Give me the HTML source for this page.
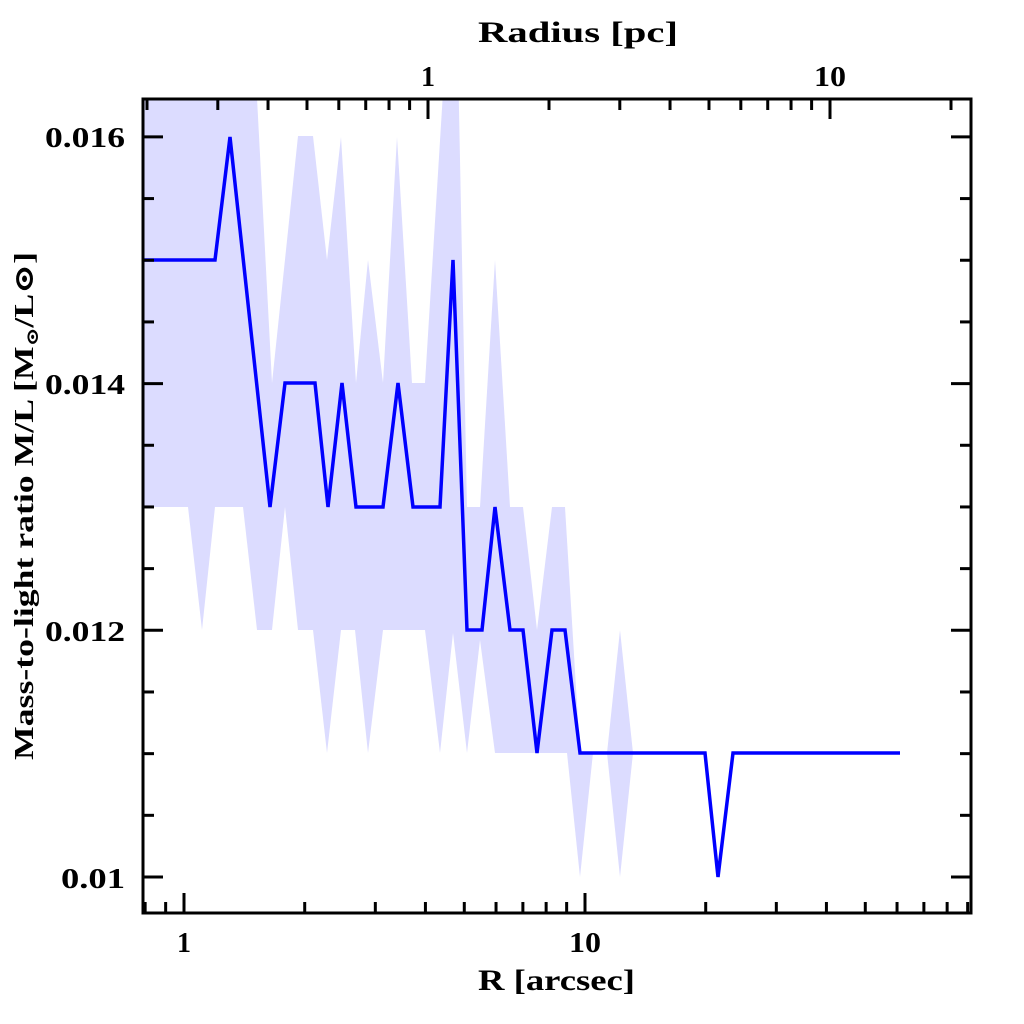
<!DOCTYPE html>
<html><head><meta charset="utf-8"><style>
html,body{margin:0;padding:0;background:#fff;width:1024px;height:1024px;overflow:hidden}
svg text{font-family:"Liberation Serif","DejaVu Serif",serif;font-weight:bold;fill:#000}
</style></head><body>
<svg width="1024" height="1024" viewBox="0 0 1024 1024" xmlns="http://www.w3.org/2000/svg">
<defs><clipPath id="c"><rect x="143" y="99" width="828" height="814"/></clipPath></defs>
<g clip-path="url(#c)">
<polygon fill="#dcdcff" points="
143,60 255,60 272,383 298,136 313,136 327,260 341,137 356,383 368,260 383,383 397,137 412,383 425,383 445,60 458,60 467,507 480,507 495,260 510,507 523,507 537,630 552,507 565,507 580,753 593,753 607,753 620,630 633,753
620,877 607,753 593,753 580,877 567,753 495,753 480,640 467,753 453,633 440,753 425,630 383,630 368,753 355,630 341,630 327,753 313,630 298,630 285,507 272,630 257,630 243,507 215,507 202,630 188,507 143,507"/>
<polyline fill="none" stroke="#0000ff" stroke-width="3.5" stroke-linejoin="miter" points="143,260 215,260 230,137 270,507 285,383 315,383 328,507 342,383 356,507 383,507 398,383 413,507 440,507 453,260 467,630 482,630 495,507 510,630 523,630 537,753 552,630 565,630 580,753 705,753 718,877 733,753 900,753"/>
</g>
<g stroke="#000" stroke-width="3" fill="none">
<rect x="143" y="99" width="828" height="814"/>
</g>
<g stroke="#000" stroke-width="3" id="ticks"></g>
<text x="125" y="147" font-size="28" text-anchor="end" textLength="80" lengthAdjust="spacingAndGlyphs">0.016</text>
<text x="125" y="394" font-size="28" text-anchor="end" textLength="80" lengthAdjust="spacingAndGlyphs">0.014</text>
<text x="125" y="641" font-size="28" text-anchor="end" textLength="80" lengthAdjust="spacingAndGlyphs">0.012</text>
<text x="125" y="888" font-size="28" text-anchor="end" textLength="64" lengthAdjust="spacingAndGlyphs">0.01</text>
<text x="184" y="952" font-size="28" text-anchor="middle">1</text>
<text x="585" y="952" font-size="28" text-anchor="middle" textLength="32" lengthAdjust="spacingAndGlyphs">10</text>
<text x="428" y="86" font-size="28" text-anchor="middle">1</text>
<text x="830" y="86" font-size="28" text-anchor="middle" textLength="32" lengthAdjust="spacingAndGlyphs">10</text>
<text x="478" y="990" font-size="30" textLength="157" lengthAdjust="spacingAndGlyphs">R [arcsec]</text>
<text x="478" y="42" font-size="30" textLength="200" lengthAdjust="spacingAndGlyphs">Radius [pc]</text>
<text transform="translate(33,760) rotate(-90)" font-size="27" textLength="508" lengthAdjust="spacingAndGlyphs">Mass-to-light ratio M/L [M<tspan font-size="17" dy="5">⊙</tspan><tspan dy="-5">/L⊙]</tspan></text>
<script>
(function(){
var g=document.getElementById('ticks'),ns='http://www.w3.org/2000/svg';
function L(x1,y1,x2,y2){var l=document.createElementNS(ns,'line');l.setAttribute('x1',x1);l.setAttribute('y1',y1);l.setAttribute('x2',x2);l.setAttribute('y2',y2);g.appendChild(l);}
var v,i,d;
for(i=0;i<=13;i++){v=0.0095+i*0.0005;var y=877-(v-0.01)/0.002*246.7;if(y<100||y>912)continue;var maj=(i%4==1);var len=maj?20:11;L(143,y,143+len,y);L(971,y,971-len,y);}
for(d=-1;d<=1;d++)for(i=1;i<=9;i++){v=Math.log10(i)+d;var x=184+401*v;if(x<145||x>969)continue;var len=(i==1)?20:11;L(x,913,x,913-len);}
for(d=-1;d<=1;d++)for(i=1;i<=9;i++){v=Math.log10(i)+d;var x=428+402*v;if(x<145||x>969)continue;var len=(i==1)?20:11;L(x,99,x,99+len);}
})();
</script>
</svg>
</body></html>
